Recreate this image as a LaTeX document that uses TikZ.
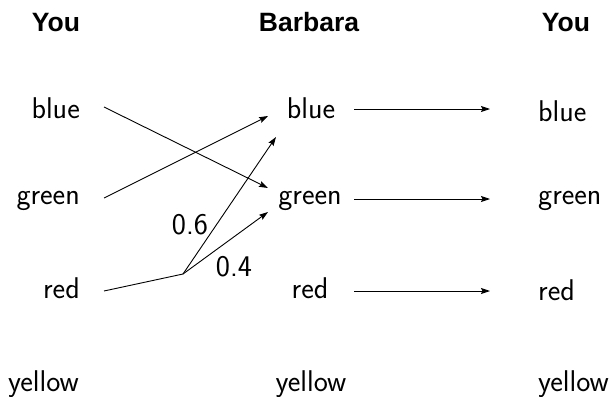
\documentclass[tikz,border=0pt]{standalone}
\usepackage{fontspec}
\newfontfamily\hdrfont{Liberation Sans}
\usetikzlibrary{arrows.meta}
\newcommand{\labfont}{\sffamily\fontsize{30}{36}\selectfont}
\newcommand{\hfont}{\hdrfont\bfseries\fontsize{26.5}{30}\selectfont}
\begin{document}
\begin{tikzpicture}[x=1pt,y=-1pt,
  lab/.style={font=\labfont, inner sep=0pt},
  hdr/.style={font=\hfont, inner sep=0pt},
  con/.style={line width=0.9pt, -{Stealth[length=9pt,width=6pt,inset=1.5pt]}},
  seg/.style={line width=0.9pt}]
\useasboundingbox (0,0) rectangle (612,396);
% headers
\node[hdr, anchor=base] (h1) at (56,32) {You};
\node[hdr, anchor=base] (h2) at (309,32) {Barbara};
\node[hdr, anchor=base] (h3) at (566,32) {You};
% left column
\node[lab, anchor=base east] (lb) at (80,118) {blue};
\node[lab, anchor=base east] (lg) at (80,204) {green};
\node[lab, anchor=base east] (lr) at (80,298) {red};
\node[lab, anchor=base east] (ly) at (79,391) {yellow};
% middle column
\node[lab, anchor=base] (mb) at (311,118) {blue};
\node[lab, anchor=base] (mg) at (310,204) {green};
\node[lab, anchor=base] (mr) at (310,298) {red};
\node[lab, anchor=base] (my) at (311,391) {yellow};
% right column
\node[lab, anchor=base west] (rb) at (538,121) {blue};
\node[lab, anchor=base west] (rg) at (538,204) {green};
\node[lab, anchor=base west] (rr) at (538,300) {red};
\node[lab, anchor=base west] (ry) at (538,391) {yellow};
% connector end points
\coordinate (lbo) at (104,107);
\coordinate (lgo) at (104,198);
\coordinate (lro) at (104,291);
\coordinate (k) at (183,274);
\coordinate (mbi) at (268,116);
\coordinate (mbi2) at (276,137);
\coordinate (mgi) at (268,188);
\coordinate (mgi2) at (268,212);
\coordinate (mbo) at (354,109);
\coordinate (mgo) at (354,199);
\coordinate (mro) at (354,291);
\coordinate (rbi) at (490,109);
\coordinate (rgi) at (490,199);
\coordinate (rri) at (490,291);
% connectors
\draw[con] (lbo) -- (mgi);
\draw[con] (lgo) -- (mbi);
\draw[seg] (lro) -- (k);
\draw[con] (k) -- (mbi2);
\draw[con] (k) -- (mgi2);
\draw[con] (mbo) -- (rbi);
\draw[con] (mgo) -- (rgi);
\draw[con] (mro) -- (rri);
% probabilities
\node[lab] (p6) at (190,225) {0.6};
\node[lab] (p4) at (234,267) {0.4};
\end{tikzpicture}
\end{document}
